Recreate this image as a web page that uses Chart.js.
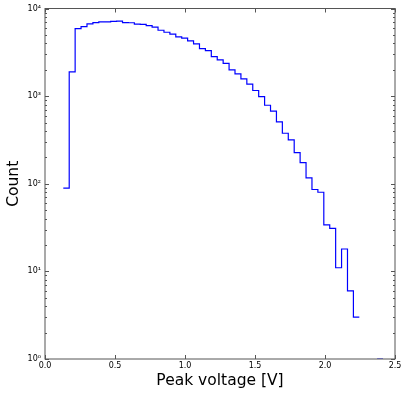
<!DOCTYPE html>
<html>
<head>
<meta charset="utf-8">
<script src="https://cdn.jsdelivr.net/npm/chart.js@4"></script>
<style>
  body { margin: 0; background: #fff; }
  canvas { display: block; }
</style>
</head>
<body>
<canvas id="c" width="401" height="393"></canvas>
<script>
// histogram bins (V), counts; 0 = empty bin
const binStart = 0.1307;
const binWidth = 0.04229;
const counts = [89, 1890, 5900, 6210, 6670, 6900, 7030, 7030, 7130, 7170,
  6900, 6880, 6620, 6580, 6380, 6120, 5650, 5360, 5090, 4740,
  4580, 4270, 3940, 3490, 3300, 2820, 2590, 2370, 1990, 1790,
  1570, 1370, 1160, 987, 787, 673, 508, 377, 316, 226,
  174, 117, 86, 80, 34, 31, 11, 18, 6, 3,
  0, 0, 0, 1];
const xTicks = [0, 0.5, 1.0, 1.5, 2.0, 2.5];
const yTicks = [1, 10, 100, 1000, 10000];
const sup = ['⁰', '¹', '²', '³', '⁴'];

// step outline, broken where a bin is empty (log scale)
const points = [];
counts.forEach((c, i) => {
  if (c <= 0) return;
  const left = binStart + i * binWidth;
  points.push({ x: left, y: c });
  if (i === counts.length - 1 || counts[i + 1] <= 0) {
    points.push({ x: left + binWidth, y: c });
    points.push({ x: left + binWidth, y: null });
  }
});

// matplotlib-like frame with inward ticks
const frame = {
  id: 'frame',
  afterDraw(chart) {
    const { ctx, chartArea: a, scales } = chart;
    const xs = scales.x, ys = scales.y;
    ctx.save();
    ctx.strokeStyle = '#555';
    ctx.lineWidth = 1;
    ctx.strokeRect(a.left, a.top, a.right - a.left, a.bottom - a.top);
    ctx.beginPath();
    xTicks.forEach(v => {
      const px = Math.round(xs.getPixelForValue(v)) + 0.5;
      ctx.moveTo(px, a.bottom); ctx.lineTo(px, a.bottom - 4);
      ctx.moveTo(px, a.top); ctx.lineTo(px, a.top + 4);
    });
    yTicks.forEach((v, k) => {
      const py = Math.round(ys.getPixelForValue(v)) + 0.5;
      ctx.moveTo(a.left, py); ctx.lineTo(a.left + 4, py);
      ctx.moveTo(a.right, py); ctx.lineTo(a.right - 4, py);
      if (k < yTicks.length - 1) {
        for (let m = 2; m <= 9; m++) {
          const pm = Math.round(ys.getPixelForValue(v * m)) + 0.5;
          ctx.moveTo(a.left, pm); ctx.lineTo(a.left + 2, pm);
          ctx.moveTo(a.right, pm); ctx.lineTo(a.right - 2, pm);
        }
      }
    });
    ctx.stroke();
    ctx.restore();
  }
};

const font = 'DejaVu Sans';

new Chart(document.getElementById('c'), {
  type: 'line',
  data: {
    datasets: [{
      data: points,
      borderColor: '#0000ff',
      borderWidth: 1.2,
      pointRadius: 0,
      stepped: 'before',
      fill: false,
      spanGaps: false
    }]
  },
  options: {
    responsive: false,
    animation: false,
    layout: { padding: { top: 8.5, right: 6, left: 0, bottom: 0 } },
    plugins: { legend: { display: false }, tooltip: { enabled: false } },
    scales: {
      x: {
        type: 'linear',
        min: 0,
        max: 2.5,
        grid: { display: false, drawTicks: false },
        border: { display: false },
        afterBuildTicks: s => { s.ticks = xTicks.map(v => ({ value: v })); },
        afterFit: s => { s.height = 34; s.paddingLeft = 0; s.paddingRight = 0; },
        ticks: {
          color: '#000',
          padding: 2,
          maxRotation: 0,
          font: { family: font, size: 8 },
          callback: v => Number(v).toFixed(1)
        },
        title: {
          display: true,
          text: 'Peak voltage [V]',
          color: '#000',
          font: { family: font, size: 15.5 },
          padding: { top: 0, bottom: 2.5 }
        }
      },
      y: {
        type: 'logarithmic',
        min: 1,
        max: 10000,
        grid: { display: false, drawTicks: false },
        border: { display: false },
        afterBuildTicks: s => { s.ticks = yTicks.map(v => ({ value: v })); },
        afterFit: s => { s.width = 45; s.paddingTop = 0; s.paddingBottom = 0; },
        ticks: {
          color: '#000',
          padding: 4,
          font: { family: font, size: 8 },
          callback: v => '10' + sup[Math.round(Math.log10(v))]
        },
        title: {
          display: true,
          text: 'Count',
          color: '#000',
          font: { family: font, size: 15.5 },
          padding: { top: 5, bottom: 0 }
        }
      }
    }
  },
  plugins: [frame]
});
</script>
</body>
</html>
